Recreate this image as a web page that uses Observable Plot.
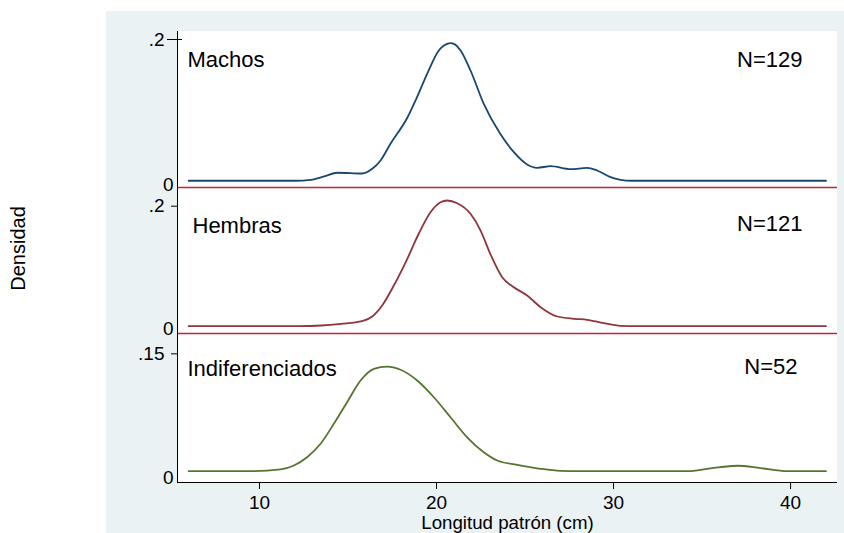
<!DOCTYPE html>
<html>
<head>
<meta charset="utf-8">
<script src="https://cdn.jsdelivr.net/npm/d3@7"></script>
<script src="https://cdn.jsdelivr.net/npm/@observablehq/plot@0.6"></script>
<style>
  html, body { margin: 0; padding: 0; background: #fff; }
  #chart { position: relative; width: 844px; height: 533px; overflow: hidden; font-family: "Liberation Sans", Arial, sans-serif; }
  #region { position: absolute; left: 106px; top: 11px; right: 0; bottom: 0; background: #eaf2f3; }
  #plotregion { position: absolute; left: 177px; top: 31px; width: 660px; height: 451px; background: #fff; }
  #chart svg { position: absolute; left: 0; }
</style>
</head>
<body>
<div id="chart"><div id="region"></div><div id="plotregion"></div></div>
<script>
// Kernel density of standard length (cm), one panel per group
const groups = ["Machos", "Hembras", "Indiferenciados"];
const sampleSizes = [129, 121, 52];
const lengthTicks = [10, 20, 30, 40];
const densityTopTicks = [0.2, 0.2, 0.15];

const machosLength = [6.0, 12.0, 12.9, 13.65, 14.4, 15.15, 15.8, 16.37, 16.84, 17.4, 18.35, 18.9, 19.47, 20.13, 20.6, 20.8, 20.98, 21.36, 21.92, 22.67, 23.6, 24.37, 25.12, 25.69, 26.44, 27.57, 28.51, 29.07, 29.83, 30.4, 31.0, 42.0];
const machosDensity = [0.0091, 0.0091, 0.0104, 0.0149, 0.0199, 0.0193, 0.0189, 0.0253, 0.0365, 0.0591, 0.0942, 0.122, 0.1536, 0.1851, 0.1942, 0.195, 0.1942, 0.1851, 0.1581, 0.1131, 0.0726, 0.0477, 0.0311, 0.0266, 0.0288, 0.0247, 0.0266, 0.023, 0.0139, 0.0104, 0.0091, 0.0091];

const hembrasLength = [6.0, 12.3, 13.5, 14.6, 15.8, 16.37, 16.93, 17.59, 18.35, 19.0, 19.66, 20.23, 20.6, 21.17, 21.92, 22.49, 23.05, 23.71, 24.37, 25.12, 25.88, 26.82, 27.76, 28.51, 29.45, 30.4, 31.3, 42.0];
const hembrasDensity = [0.0115, 0.0115, 0.0126, 0.0152, 0.0193, 0.0267, 0.044, 0.0754, 0.1174, 0.1571, 0.1906, 0.2063, 0.209, 0.2047, 0.1881, 0.1618, 0.1242, 0.0885, 0.0727, 0.0597, 0.0413, 0.0267, 0.0231, 0.0215, 0.0162, 0.0121, 0.0115, 0.0115];

const indifLength = [6.0, 9.49, 11.19, 11.94, 12.69, 13.45, 14.2, 14.95, 15.71, 16.46, 17.21, 17.97, 18.91, 19.85, 20.79, 21.73, 22.67, 23.43, 24.56, 25.88, 27.0, 28.1, 34.16, 35.48, 36.99, 38.3, 39.8, 42.0];
const indifDensity = [0.0132, 0.0132, 0.0152, 0.0198, 0.0295, 0.0451, 0.0684, 0.0936, 0.1189, 0.1325, 0.1352, 0.1314, 0.1189, 0.0994, 0.0761, 0.0527, 0.0352, 0.0256, 0.0206, 0.016, 0.0136, 0.0132, 0.0132, 0.0165, 0.0195, 0.0168, 0.0132, 0.0132];

const seriesLength = [machosLength, hembrasLength, indifLength];
const seriesDensity = [machosDensity, hembrasDensity, indifDensity];

// Layout of the stacked panels (pixel rows of each plot area)
const xDomain = [5.37, 42.65];
const panels = [
  {top: 31, bottom: 187, yMax: 0.2108, base: "#c8203f", baseWidth: 1.6, color: "#1a476f", nameDx: 10, nameDy: 35, nDx: -35, nDy: 35, zeroDy: -3, crossTick: true},
  {top: 187, bottom: 333, yMax: 0.2294, base: "#c8203f", baseWidth: 1.6, color: "#90353b", nameDx: 15, nameDy: 45, nDx: -35, nDy: 43, zeroDy: -5, crossTick: false},
  {top: 333, bottom: 482, yMax: 0.1737, base: "#000", baseWidth: 1, color: "#55752f", nameDx: 10, nameDy: 42, nDx: -40, nDy: 40, zeroDy: -5, crossTick: false}
];

const fmt = d => d === 0 ? "0" : String(d).replace(/^0\./, ".");
const font = "Liberation Sans, Arial, sans-serif";
const tickFont = 19;
const chart = document.getElementById("chart");

panels.forEach((p, i) => {
  const last = i === panels.length - 1;
  const marginTop = 10;
  const marginBottom = last ? 533 - p.bottom : 10;
  const height = (p.bottom - p.top) + marginTop + marginBottom;
  const rows = seriesLength[i].map((len, j) => ({len, dens: seriesDensity[i][j]}));

  const marks = [
    Plot.ruleX([xDomain[0]], {stroke: "#000", strokeWidth: 1}),
    Plot.ruleY([0], {stroke: p.base, strokeWidth: p.baseWidth}),
    Plot.lineY(rows, {x: "len", y: "dens", stroke: p.color, strokeWidth: 1.8, curve: "monotone-x"}),
    Plot.axisY([densityTopTicks[i]], {
      tickSize: p.crossTick ? 15 : 6, dx: p.crossTick ? 5 : 0,
      tickFormat: p.crossTick ? () => "" : fmt, tickPadding: 7, fontSize: tickFont, label: null
    }),
    Plot.text([0], {y: d => d, frameAnchor: "left", text: fmt, textAnchor: "end", dx: -4, dy: p.zeroDy, fontSize: tickFont}),
    Plot.text([groups[i]], {frameAnchor: "top-left", textAnchor: "start", lineAnchor: "bottom", dx: p.nameDx, dy: p.nameDy, fontSize: 22}),
    Plot.text([sampleSizes[i]], {frameAnchor: "top-right", text: d => `N=${d}`, textAnchor: "end", lineAnchor: "bottom", dx: p.nDx, dy: p.nDy, fontSize: 22})
  ];
  if (p.crossTick) {
    marks.push(Plot.axisY([densityTopTicks[i]], {tickSize: 0, tickPadding: 13, tickFormat: fmt, fontSize: tickFont, label: null}));
  }
  if (i === 1) {
    marks.push(Plot.text(["Densidad"], {frameAnchor: "left", textAnchor: "middle", rotate: -90, dx: -159, dy: -12, fontSize: 20}));
  }
  if (last) {
    marks.push(Plot.axisX(lengthTicks, {tickSize: 7, tickPadding: 6, fontSize: tickFont, label: null}));
    marks.push(Plot.text(["Longitud patrón (cm)"], {frameAnchor: "bottom", lineAnchor: "bottom", dy: 46, fontSize: 18.7}));
  }

  const svg = Plot.plot({
    width: 844,
    height,
    marginLeft: 177,
    marginRight: 7,
    marginTop,
    marginBottom,
    x: {domain: xDomain, axis: null},
    y: {domain: [0, p.yMax], axis: null},
    style: {background: "transparent", overflow: "visible", fontFamily: font, color: "#000"},
    marks
  });
  svg.style.top = (p.top - marginTop) + "px";
  chart.appendChild(svg);
});
</script>
</body>
</html>
